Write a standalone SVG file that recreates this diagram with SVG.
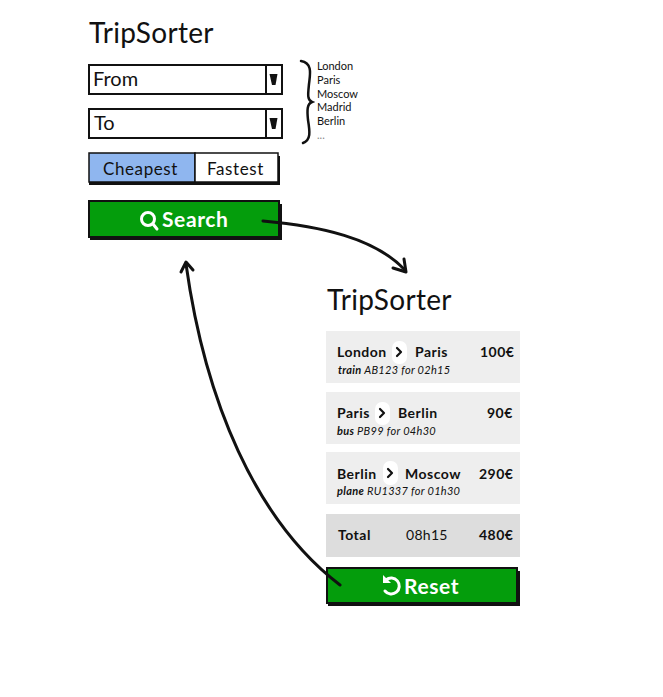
<svg xmlns="http://www.w3.org/2000/svg" width="663" height="697" viewBox="0 0 663 697">
<defs>
<style>
text{font-family:"Lato","Open Sans","Liberation Sans",sans-serif;fill:#111}
.title{font-size:28px;letter-spacing:.3px}
.field{font-size:20px}
.box{fill:#fff;stroke:#111;stroke-width:2}
.arrowbtn{fill:#111}
.seg{font-size:17px;letter-spacing:.6px}
.btn{font-size:21px;font-weight:700;fill:#fff;letter-spacing:.6px}
.green{fill:#049d0c;stroke:#111;stroke-width:2}
.shadow{fill:#111}
.row{fill:#eeeeee}
.city{font-size:14px;font-weight:700;letter-spacing:.5px}
.sub{font-size:11px;font-style:italic;letter-spacing:.3px}
.list{font-size:11px}
.conn{fill:none;stroke:#111;stroke-width:3;stroke-linecap:round}
.hd{fill:none;stroke:#111;stroke-width:3;stroke-linecap:round;stroke-linejoin:round}
.pill{fill:#fff}
.chev{fill:none;stroke:#111;stroke-width:2.2;stroke-linecap:round;stroke-linejoin:round}
.ico{fill:none;stroke:#fff;stroke-width:3;stroke-linecap:round}
</style>
</defs>
<g id="title-1"><text class="title" x="89" y="43">TripSorter</text></g>
<g id="from">
<rect class="box" x="89" y="65" width="193" height="29"/>
<line x1="266" y1="65" x2="266" y2="94" stroke="#111" stroke-width="2"/>
<path class="arrowbtn" d="M269.500 74h8l-2 11h-3.500z"/>
<text class="field" x="93" y="86">From</text>
</g>
<g id="to">
<rect class="box" x="89" y="109" width="193" height="29"/>
<line x1="266" y1="109" x2="266" y2="138" stroke="#111" stroke-width="2"/>
<path class="arrowbtn" d="M269.500 118h8l-2 11h-3.500z"/>
<text class="field" x="94" y="130">To</text>
</g>
<g id="city-list">
<path d="M301 61C313 63 310 75 309 84C308 94 307 100 312 102C307 104 307 110 308 120C310 132 311 140 303 143" fill="none" stroke="#111" stroke-width="2.500" stroke-linecap="round"/>
<text class="list" x="317" y="70">London</text>
<text class="list" x="317" y="84">Paris</text>
<text class="list" x="317" y="98">Moscow</text>
<text class="list" x="317" y="111">Madrid</text>
<text class="list" x="317" y="125">Berlin</text>
<text class="list" x="317" y="139" fill="#888" style="fill:#888">...</text>
</g>
<g id="toggle">
<rect class="shadow" x="89" y="156" width="191" height="29"/>
<rect x="89" y="153" width="106" height="29" fill="#8fb6ef" stroke="#111" stroke-width="1.500"/>
<rect x="195" y="153" width="83" height="29" fill="#fff" stroke="#111" stroke-width="1.500"/>
<text class="seg" x="103" y="175">Cheapest</text>
<text class="seg" x="207" y="175">Fastest</text>
</g>
<g id="search">
<rect class="shadow" x="90" y="204" width="192" height="36"/>
<rect class="green" x="89" y="201" width="190" height="36"/>
<circle class="ico" cx="148" cy="219" r="6.500"/>
<line class="ico" x1="153" y1="224" x2="157" y2="229"/>
<text class="btn" x="162" y="227">Search</text>
</g>
<g id="title-2"><text class="title" x="327" y="310">TripSorter</text></g>
<g id="trip-1">
<rect class="row" x="326" y="331" width="194" height="52"/>
<rect class="pill" x="392" y="341" width="15" height="23" rx="7"/>
<path class="chev" d="M397 348l4 4l-4 4"/>
<text class="city" x="337" y="357">London</text>
<text class="city" x="415" y="357">Paris</text>
<text class="city" x="480" y="357">100€</text>
<text class="sub" x="338" y="374"><tspan font-weight="700">train</tspan>  AB123 for 02h15</text>
</g>
<g id="trip-2">
<rect class="row" x="326" y="392" width="194" height="52"/>
<rect class="pill" x="375" y="402" width="15" height="23" rx="7"/>
<path class="chev" d="M380 409l4 4l-4 4"/>
<text class="city" x="337" y="418">Paris</text>
<text class="city" x="398" y="418">Berlin</text>
<text class="city" x="487" y="418">90€</text>
<text class="sub" x="337" y="435"><tspan font-weight="700">bus</tspan>  PB99 for 04h30</text>
</g>
<g id="trip-3">
<rect class="row" x="326" y="452" width="194" height="52"/>
<rect class="pill" x="383" y="461" width="15" height="24" rx="7"/>
<path class="chev" d="M388 469l4 4l-4 4"/>
<text class="city" x="337" y="479">Berlin</text>
<text class="city" x="405" y="479">Moscow</text>
<text class="city" x="479" y="479">290€</text>
<text class="sub" x="337" y="495"><tspan font-weight="700">plane</tspan>  RU1337 for 01h30</text>
</g>
<g id="total">
<rect x="326" y="514" width="194" height="43" fill="#dddddd"/>
<text class="city" x="338" y="540">Total</text>
<text x="406" y="540" font-size="14" letter-spacing=".3">08h15</text>
<text class="city" x="479" y="540">480€</text>
</g>
<g id="reset">
<rect class="shadow" x="328" y="571" width="192" height="35"/>
<rect class="green" x="327" y="568" width="190" height="35"/>
<path class="ico" d="M386 580A8 8 0 1 1 385 591"/>
<path d="M383 575v8h8z" fill="#fff"/>
<text class="btn" x="404" y="594">Reset</text>
</g>
<g id="connectors">
<path class="conn" d="M263 221C320 226 375 238 405 270"/>
<path class="hd" d="M393 268L406 272L404 259"/>
<path class="conn" d="M340 585C255 520 205 400 186 264"/>
<path class="hd" d="M181 272L186 262L193 270"/>
</g>
</svg>
